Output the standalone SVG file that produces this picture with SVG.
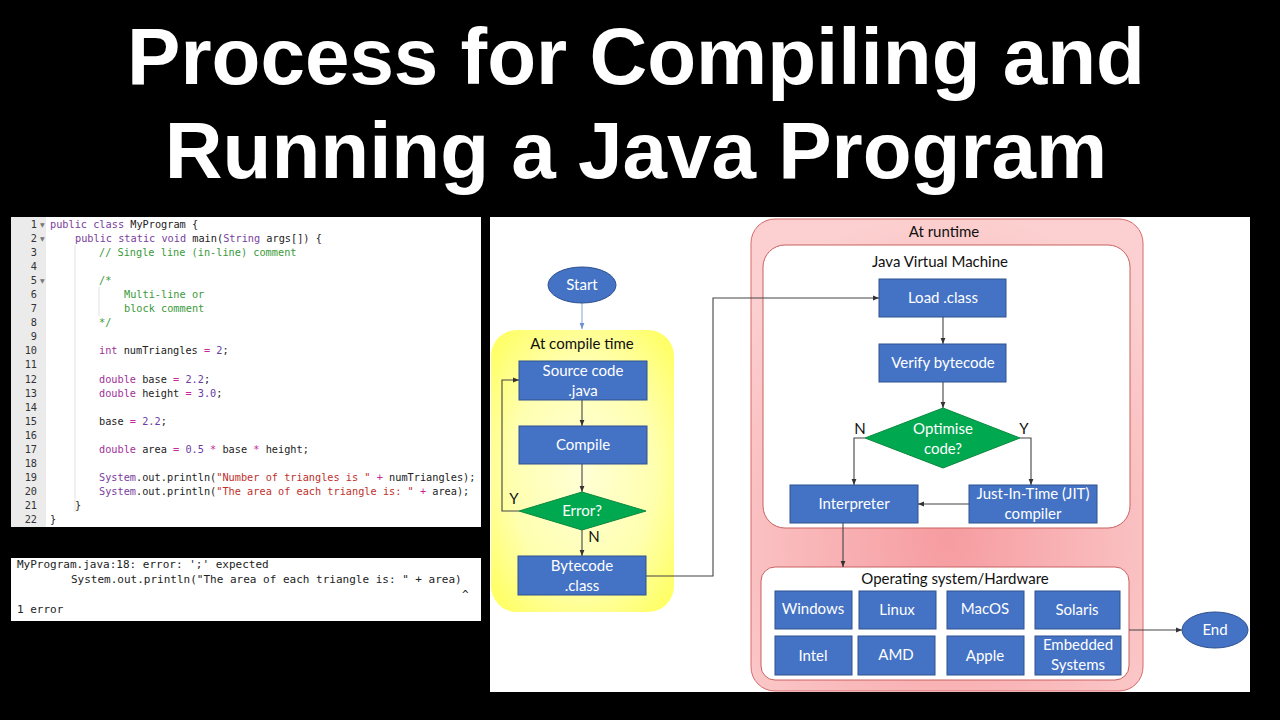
<svg xmlns="http://www.w3.org/2000/svg" width="1280" height="720" viewBox="0 0 1280 720">
<defs>
<style>
.title{font-family:"Liberation Sans",Arial,sans-serif;font-weight:bold;font-size:80px;fill:#fff;text-anchor:middle}
.code{font-family:"DejaVu Sans Mono","Liberation Mono",monospace;font-size:10.25px;fill:#222}
.ln{font-family:"DejaVu Sans Mono","Liberation Mono",monospace;font-size:10.25px;fill:#333;text-anchor:end}
.fold{font-family:"DejaVu Sans",sans-serif;font-size:6px;fill:#777}
.err{font-family:"DejaVu Sans Mono","Liberation Mono",monospace;font-size:11px;fill:#222}
.kw{fill:#7a3d9d}
.ty{fill:#a0309a}
.op{fill:#c8289a}
.num{fill:#6a3ca6}
.str{fill:#c0302c}
.cm{fill:#3a9a3a}
.box{fill:#4472c4;stroke:#2f528f;stroke-width:1}
.dia{fill:#00a84f;stroke:#0a8a3f;stroke-width:1}
.t{font-family:Lato,"Open Sans",sans-serif;font-size:15px;fill:#fff;text-anchor:middle}
.lbl{font-family:Lato,"Open Sans",sans-serif;font-size:15px;fill:#111;text-anchor:middle}
.conn{fill:none;stroke:#444;stroke-width:1.1;marker-end:url(#arr)}
.guide{stroke:#e2e2e2;stroke-width:1}
</style>
<marker id="arr" viewBox="0 0 10 10" refX="10" refY="5" markerWidth="6" markerHeight="6" orient="auto" markerUnits="userSpaceOnUse">
<path d="M0,1 L10,5 L0,9 z" fill="#333"/>
</marker>
<marker id="arrb" viewBox="0 0 10 10" refX="10" refY="5" markerWidth="6" markerHeight="6" orient="auto" markerUnits="userSpaceOnUse">
<path d="M0,1 L10,5 L0,9 z" fill="#6f8fcf"/>
</marker>
<radialGradient id="yel" cx="50%" cy="50%" r="65%">
<stop offset="0" stop-color="#ffffd6"/>
<stop offset="0.6" stop-color="#ffffb0"/>
<stop offset="1" stop-color="#ffff66"/>
</radialGradient>
<radialGradient id="pink" cx="50%" cy="68%" r="70%">
<stop offset="0" stop-color="#f69ca0"/>
<stop offset="1" stop-color="#fcd0d0"/>
</radialGradient>
</defs>

<rect x="0" y="0" width="1280" height="720" fill="#000"/>

<g id="title">
<text class="title" x="636" y="84">Process for Compiling and</text>
<text class="title" x="636" y="178">Running a Java Program</text>
</g>

<g id="code-panel">
<rect x="11" y="217" width="470" height="310" fill="#fff"/>
<rect x="11" y="217" width="35" height="310" fill="#ebebeb"/>
<line class="guide" x1="75" y1="245" x2="75" y2="512"/>
<line class="guide" x1="99" y1="287" x2="99" y2="316"/>
<g>
<text class="ln" x="37" y="228">1</text>
<text class="ln" x="37" y="242">2</text>
<text class="ln" x="37" y="256">3</text>
<text class="ln" x="37" y="270">4</text>
<text class="ln" x="37" y="284">5</text>
<text class="ln" x="37" y="298">6</text>
<text class="ln" x="37" y="312">7</text>
<text class="ln" x="37" y="326">8</text>
<text class="ln" x="37" y="340">9</text>
<text class="ln" x="37" y="354">10</text>
<text class="ln" x="37" y="368">11</text>
<text class="ln" x="37" y="383">12</text>
<text class="ln" x="37" y="397">13</text>
<text class="ln" x="37" y="411">14</text>
<text class="ln" x="37" y="425">15</text>
<text class="ln" x="37" y="439">16</text>
<text class="ln" x="37" y="453">17</text>
<text class="ln" x="37" y="467">18</text>
<text class="ln" x="37" y="481">19</text>
<text class="ln" x="37" y="495">20</text>
<text class="ln" x="37" y="509">21</text>
<text class="ln" x="37" y="523">22</text>
<text class="fold" x="40" y="227">▼</text>
<text class="fold" x="40" y="241">▼</text>
<text class="fold" x="40" y="283">▼</text>
</g>
<g xml:space="preserve">
<text class="code" x="50" y="228"><tspan class="kw">public class</tspan> MyProgram {</text>
<text class="code" x="75" y="242"><tspan class="kw">public static void</tspan> main(<tspan class="kw">String</tspan> args[]) {</text>
<text class="code cm" x="99" y="256">// Single line (in-line) comment</text>
<text class="code cm" x="99" y="284">/*</text>
<text class="code cm" x="124" y="298">Multi-line or</text>
<text class="code cm" x="124" y="312">block comment</text>
<text class="code cm" x="99" y="326">*/</text>
<text class="code" x="99" y="354"><tspan class="ty">int</tspan> numTriangles <tspan class="op">=</tspan> <tspan class="num">2</tspan>;</text>
<text class="code" x="99" y="383"><tspan class="ty">double</tspan> base <tspan class="op">=</tspan> <tspan class="num">2.2</tspan>;</text>
<text class="code" x="99" y="397"><tspan class="ty">double</tspan> height <tspan class="op">=</tspan> <tspan class="num">3.0</tspan>;</text>
<text class="code" x="99" y="425">base <tspan class="op">=</tspan> <tspan class="num">2.2</tspan>;</text>
<text class="code" x="99" y="453"><tspan class="ty">double</tspan> area <tspan class="op">=</tspan> <tspan class="num">0.5</tspan> <tspan class="op">*</tspan> base <tspan class="op">*</tspan> height;</text>
<text class="code" x="99" y="481"><tspan class="kw">System</tspan>.out.println(<tspan class="str">"Number of triangles is "</tspan> <tspan class="op">+</tspan> numTriangles);</text>
<text class="code" x="99" y="495"><tspan class="kw">System</tspan>.out.println(<tspan class="str">"The area of each triangle is: "</tspan> <tspan class="op">+</tspan> area);</text>
<text class="code" x="75" y="509">}</text>
<text class="code" x="50" y="523">}</text>
</g>
</g>

<g id="error-panel" xml:space="preserve">
<rect x="11" y="558" width="470" height="63" fill="#fff"/>
<text class="err" x="17" y="568">MyProgram.java:18: error: ';' expected</text>
<text class="err" x="71" y="583">System.out.println("The area of each triangle is: " + area)</text>
<text class="err" x="462" y="598">^</text>
<text class="err" x="17" y="613">1 error</text>
</g>

<g id="flow-panel">
<rect x="490" y="217" width="760" height="475" fill="#fff"/>
</g>

<g id="compile-region">
<rect x="491" y="330" width="183" height="282" rx="26" fill="url(#yel)"/>
<text class="lbl" x="582" y="349">At compile time</text>
</g>

<g id="runtime-region">
<rect x="751" y="219" width="392" height="472" rx="24" fill="url(#pink)" stroke="#d86a6a" stroke-width="1"/>
<text class="lbl" x="944" y="237">At runtime</text>
</g>

<g id="jvm">
<rect x="763" y="245" width="367" height="283" rx="22" fill="#fff" stroke="#c86060" stroke-width="1"/>
<text class="lbl" x="940" y="267">Java Virtual Machine</text>
</g>

<g id="os">
<rect x="761" y="567" width="368" height="113" rx="14" fill="#fff" stroke="#c86060" stroke-width="1"/>
<text class="lbl" x="955" y="584">Operating system/Hardware</text>
</g>

<g id="connectors">
<line x1="582" y1="303" x2="582" y2="329" stroke="#8faadc" stroke-width="1.1" marker-end="url(#arrb)"/>
<line class="conn" x1="582" y1="400" x2="582" y2="426"/>
<line class="conn" x1="582" y1="464" x2="582" y2="492"/>
<line class="conn" x1="582" y1="530" x2="582" y2="556"/>
<path class="conn" d="M519,511 H502 V380 H519"/>
<path class="conn" d="M646,576 H713 V298 H879"/>
<line class="conn" x1="943" y1="317" x2="943" y2="344"/>
<line class="conn" x1="943" y1="382" x2="943" y2="408"/>
<path class="conn" d="M865,438 H854 V485"/>
<path class="conn" d="M1020,438 H1031 V485"/>
<line class="conn" x1="969" y1="504" x2="918" y2="504"/>
<line class="conn" x1="843" y1="523" x2="843" y2="567"/>
<line class="conn" x1="1129" y1="630" x2="1182" y2="630"/>
<text class="lbl" x="594" y="542">N</text>
<text class="lbl" x="514" y="504">Y</text>
<text class="lbl" x="860" y="434">N</text>
<text class="lbl" x="1024" y="434">Y</text>
</g>

<g id="start">
<ellipse cx="582" cy="285" rx="34" ry="18" class="box"/>
<text class="t" x="582" y="290">Start</text>
</g>
<g id="source">
<rect class="box" x="519" y="361" width="128" height="39"/>
<text class="t" x="583" y="376">Source code</text>
<text class="t" x="583" y="396">.java</text>
</g>
<g id="compile">
<rect class="box" x="519" y="426" width="128" height="38"/>
<text class="t" x="583" y="450">Compile</text>
</g>
<g id="error">
<polygon class="dia" points="519,511 582,492 646,511 582,530"/>
<text class="t" x="582" y="516">Error?</text>
</g>
<g id="bytecode">
<rect class="box" x="518" y="556" width="128" height="39"/>
<text class="t" x="582" y="571">Bytecode</text>
<text class="t" x="582" y="591">.class</text>
</g>
<g id="load">
<rect class="box" x="879" y="279" width="127" height="38"/>
<text class="t" x="943" y="303">Load .class</text>
</g>
<g id="verify">
<rect class="box" x="879" y="344" width="127" height="38"/>
<text class="t" x="943" y="368">Verify bytecode</text>
</g>
<g id="optimise">
<polygon class="dia" points="865,438 943,408 1020,438 943,468"/>
<text class="t" x="943" y="434">Optimise</text>
<text class="t" x="943" y="454">code?</text>
</g>
<g id="interpreter">
<rect class="box" x="790" y="485" width="128" height="38"/>
<text class="t" x="854" y="509">Interpreter</text>
</g>
<g id="jit">
<rect class="box" x="969" y="485" width="128" height="38"/>
<text class="t" x="1033" y="499">Just-In-Time (JIT)</text>
<text class="t" x="1033" y="519">compiler</text>
</g>
<g id="windows"><rect class="box" x="775" y="591" width="77" height="38"/><text class="t" x="813" y="614">Windows</text></g>
<g id="linux"><rect class="box" x="859" y="591" width="77" height="38"/><text class="t" x="897" y="615">Linux</text></g>
<g id="macos"><rect class="box" x="947" y="591" width="77" height="38"/><text class="t" x="985" y="614">MacOS</text></g>
<g id="solaris"><rect class="box" x="1035" y="591" width="85" height="38"/><text class="t" x="1077" y="615">Solaris</text></g>
<g id="intel"><rect class="box" x="775" y="636" width="77" height="39"/><text class="t" x="813" y="661">Intel</text></g>
<g id="amd"><rect class="box" x="858" y="636" width="77" height="39"/><text class="t" x="896" y="660">AMD</text></g>
<g id="apple"><rect class="box" x="947" y="636" width="77" height="39"/><text class="t" x="985" y="661">Apple</text></g>
<g id="embedded"><rect class="box" x="1035" y="636" width="86" height="39"/><text class="t" x="1078" y="650">Embedded</text><text class="t" x="1078" y="670">Systems</text></g>
<g id="end">
<ellipse cx="1215" cy="630" rx="33" ry="18" class="box"/>
<text class="t" x="1215" y="635">End</text>
</g>
</svg>
